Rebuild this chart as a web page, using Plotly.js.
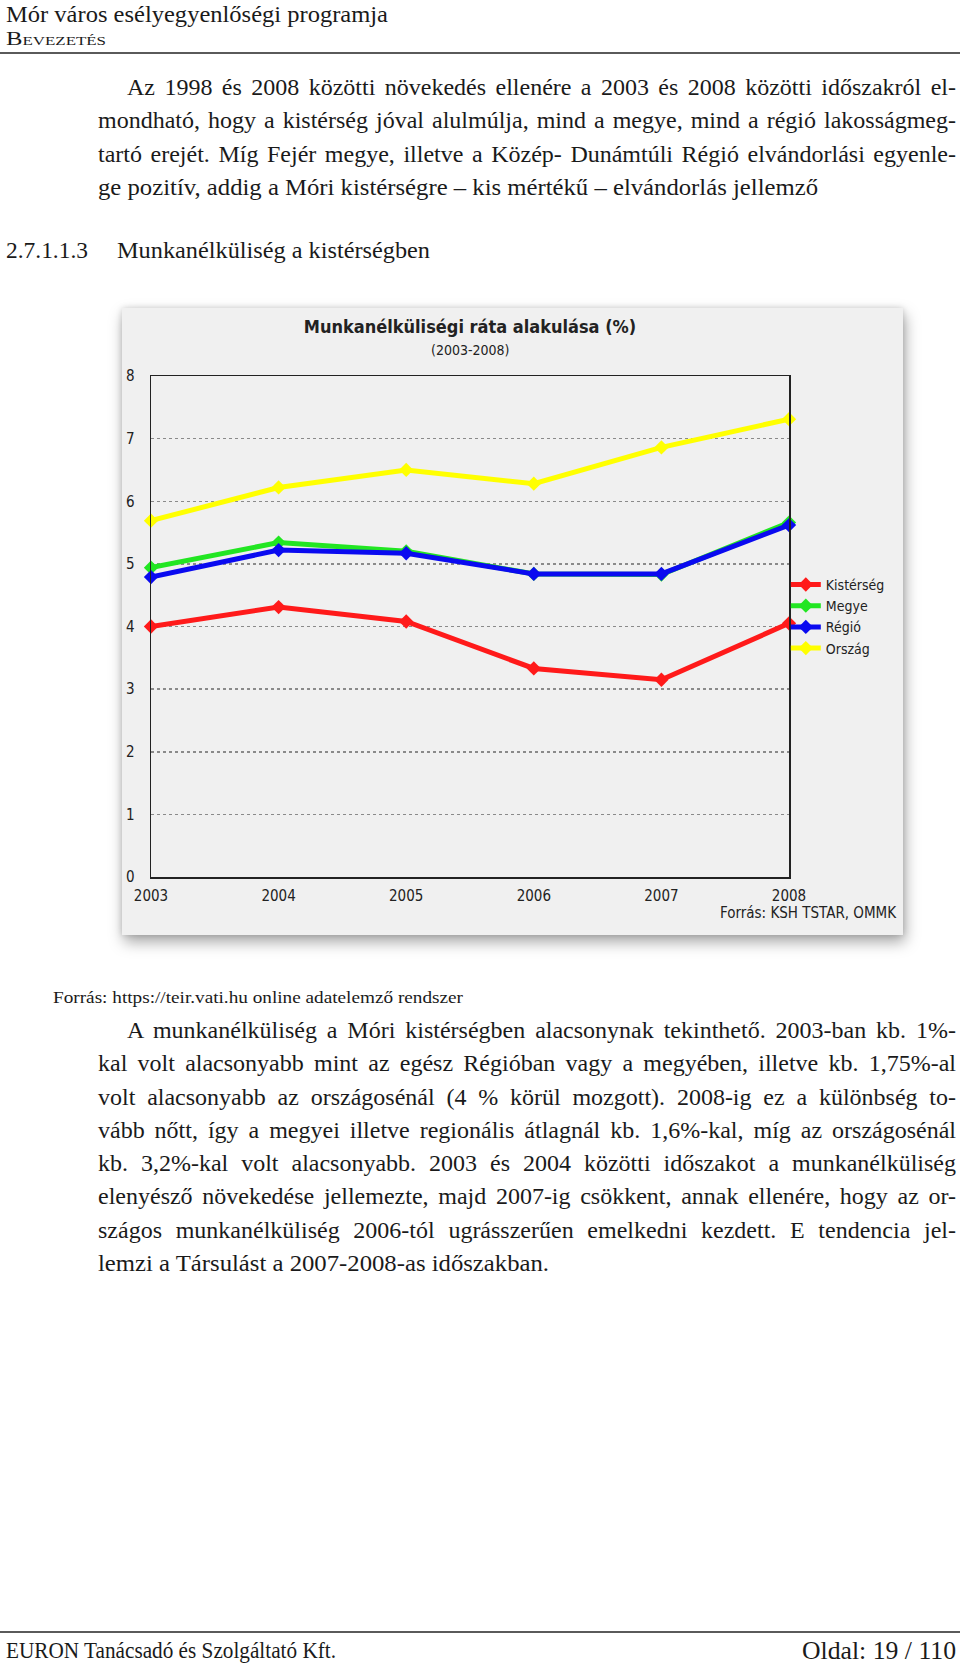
<!DOCTYPE html>
<html>
<head>
<meta charset="utf-8">
<script src="https://cdn.plot.ly/plotly-3.0.1.min.js"></script>
<style>
  html, body { margin: 0; padding: 0; background: #fff; }
  body { width: 960px; height: 1666px; position: relative; overflow: hidden;
         font-family: "Liberation Serif", "DejaVu Serif", serif; color: #1a1a1a; }
  .ln { position: absolute; white-space: nowrap; line-height: 30px; height: 30px; }
  .ln span { display: inline-block; transform-origin: 0 50%; }
  .rule { position: absolute; left: 0; width: 960px; height: 2px; background: #5a5a5a; }
  #chart { position: absolute; left: 122px; top: 308px; width: 781px; height: 627px;
           box-shadow: 2px 7px 14px rgba(0,0,0,0.35), 0 0 6px rgba(0,0,0,0.15); }
</style>
</head>
<body>
<div class="rule" style="top:52px"></div>
<div class="rule" style="top:1631px"></div>
<div id="chart"></div>
<script>
// chart data
const years = [2003, 2004, 2005, 2006, 2007, 2008];
const kisterseg = [4.0, 4.31, 4.08, 3.33, 3.15, 4.05];
const megye = [4.94, 5.34, 5.2, 4.84, 4.83, 5.66];
const regio = [4.79, 5.22, 5.17, 4.84, 4.84, 5.62];
const orszag = [5.69, 6.22, 6.5, 6.28, 6.86, 7.31];
const seriesNames = ['Kistérség', 'Megye', 'Régió', 'Ország'];
const yTicks = [0, 1, 2, 3, 4, 5, 6, 7, 8];

// page text
const para1 = [
    'Az 1998 és 2008 közötti növekedés ellenére a 2003 és 2008 közötti időszakról el-',
    'mondható, hogy a kistérség jóval alulmúlja, mind a megye, mind a régió lakosságmeg-',
    'tartó erejét. Míg Fejér megye, illetve a Közép- Dunámtúli Régió elvándorlási egyenle-',
    'ge pozitív, addig a Móri kistérségre – kis mértékű – elvándorlás jellemző'
];
const para2 = [
    'A munkanélküliség a Móri kistérségben alacsonynak tekinthető. 2003-ban kb. 1%-',
    'kal volt alacsonyabb mint az egész Régióban vagy a megyében, illetve kb. 1,75%-al',
    'volt alacsonyabb az országosénál (4 % körül mozgott). 2008-ig ez a különbség to-',
    'vább nőtt, így a megyei illetve regionális átlagnál kb. 1,6%-kal, míg az országosénál',
    'kb. 3,2%-kal volt alacsonyabb. 2003 és 2004 közötti időszakot a munkanélküliség',
    'elenyésző növekedése jellemezte, majd 2007-ig csökkent, annak ellenére, hogy az or-',
    'szágos munkanélküliség 2006-tól ugrásszerűen emelkedni kezdett. E tendencia jel-',
    'lemzi a Társulást a 2007-2008-as időszakban.'
];

// one line of text, squeezed or spread to span left..right
function addLine(text, left, right, cy, size, justify, extra) {
    const d = document.createElement('div');
    d.className = 'ln';
    d.style.left = left + 'px';
    d.style.top = (cy - 15) + 'px';
    d.style.fontSize = size + 'px';
    const s = document.createElement('span');
    s.textContent = text;
    if (extra) Object.assign(s.style, extra);
    d.appendChild(s);
    document.body.appendChild(d);
    const target = right - left;
    const w = s.getBoundingClientRect().width;
    const spaces = (text.match(/ /g) || []).length;
    if (justify && w < target && spaces > 0) {
        s.style.wordSpacing = ((target - w) / spaces) + 'px';
    } else {
        s.style.transform = 'scaleX(' + (target / w) + ')';
    }
}

addLine('Mór város esélyegyenlőségi programja', 6, 388, 14, 24, false);
addLine('Bevezetés', 6, 106, 39, 19, false, { fontVariant: 'small-caps' });

para1.forEach((t, i) => {
    const last = i === para1.length - 1;
    addLine(t, i === 0 ? 127 : 98, last ? 818 : 956, 87 + i * 33.4, 24, !last);
});

addLine('2.7.1.1.3', 6, 88, 250, 24, false);
addLine('Munkanélküliség a kistérségben', 117, 430, 250, 24, false);

addLine('Forrás: https://teir.vati.hu online adatelemző rendszer', 53, 463, 998, 17, false);

para2.forEach((t, i) => {
    const last = i === para2.length - 1;
    addLine(t, i === 0 ? 127 : 98, last ? 549 : 956, 1030 + i * 33.25, 24, !last);
});

addLine('EURON Tanácsadó és Szolgáltató Kft.', 6, 336, 1651, 23, false);
addLine('Oldal: 19 / 110', 802, 956, 1651, 26, false);

// chart
const colors = ['#ff1a1a', '#22e622', '#0a0af0', '#ffff00'];
const values = [kisterseg, megye, regio, orszag];
const chartFont = '"Liberation Sans Narrow", "DejaVu Sans Condensed", Arial, sans-serif';

const traces = values.map((v, i) => ({
    x: years, y: v, name: seriesNames[i], type: 'scatter', mode: 'lines+markers',
    line: { color: colors[i], width: 5 },
    marker: { color: colors[i], symbol: 'diamond', size: 11 },
    cliponaxis: false
}));

const layout = {
    width: 781, height: 627,
    paper_bgcolor: '#f0f0f0', plot_bgcolor: '#f0f0f0',
    margin: { l: 29, r: 114, t: 68, b: 58 },
    font: { family: chartFont, size: 14, color: '#222' },
    title: { text: '<b>Munkanélküliségi ráta alakulása (%)</b>', font: { size: 18, color: '#222' },
             x: 0.5, xref: 'paper', y: 0.97, yanchor: 'middle' },
    xaxis: {
        range: [2003, 2008], tickvals: years, ticktext: years.map(String),
        showgrid: false, zeroline: false, showline: true, linecolor: '#222', linewidth: 1.5, mirror: true,
        ticks: '', ticklabelstandoff: 4, tickfont: { size: 15 }
    },
    yaxis: {
        range: [0, 8], tickvals: yTicks, showgrid: true, gridcolor: '#8a8a8a', griddash: 'dot', gridwidth: 1.5,
        zeroline: false, showline: true, linecolor: '#222', linewidth: 1.5, mirror: true,
        ticks: '', ticklabelstandoff: 12, tickfont: { size: 15 }
    },
    legend: { x: 0.995, xanchor: 'left', y: 0.615, yanchor: 'top', bgcolor: 'rgba(0,0,0,0)',
              font: { size: 14 }, itemwidth: 30, tracegroupgap: 0 },
    annotations: [
        { text: '(2003-2008)', xref: 'paper', yref: 'paper', x: 0.5, y: 1.052, showarrow: false,
          font: { size: 14, color: '#222' }, yanchor: 'middle' },
        { text: 'Forrás: KSH TSTAR, OMMK', xref: 'paper', yref: 'paper', x: 1.172, y: -0.072,
          xanchor: 'right', yanchor: 'middle', showarrow: false, font: { size: 15, color: '#222' } }
    ]
};

Plotly.newPlot('chart', traces, layout, { displayModeBar: false, staticPlot: true });
</script>
</body>
</html>
